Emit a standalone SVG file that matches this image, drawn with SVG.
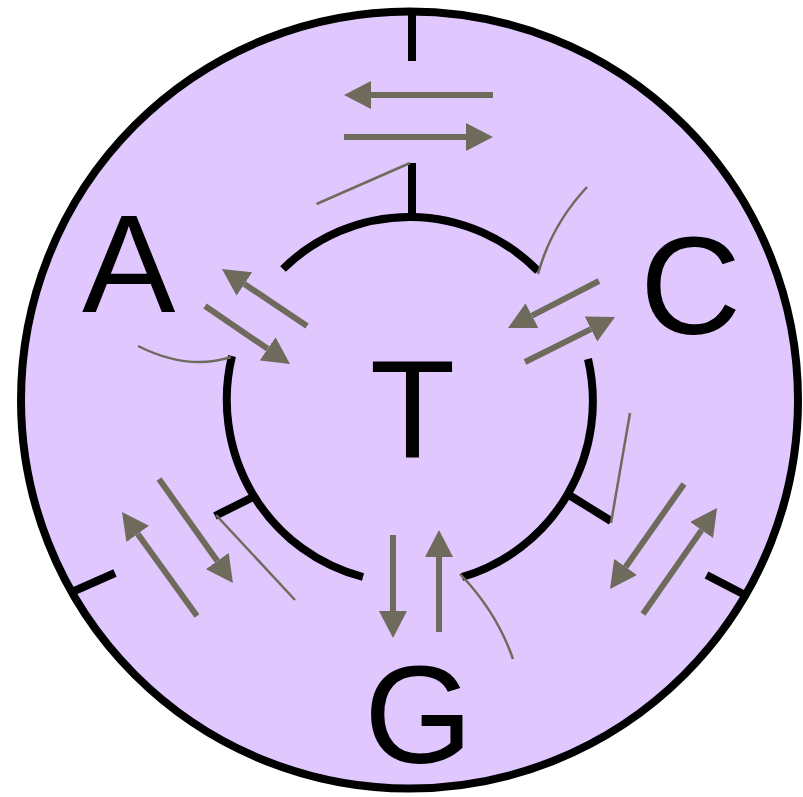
<svg xmlns="http://www.w3.org/2000/svg" width="803" height="797" viewBox="0 0 803 797">
<defs>
<style>
.blk{fill:none;stroke:#000;stroke-width:8;stroke-linecap:butt}
.arw{fill:none;stroke:#6f6b5c;stroke-width:6;stroke-linecap:butt;marker-end:url(#ah)}
.thin{fill:none;stroke:#6f6b5c;stroke-width:2.5}
.lbl{font-family:"Liberation Sans",Arial,sans-serif;font-size:140px;fill:#000;text-anchor:middle}
</style>
<marker id="ah" markerUnits="userSpaceOnUse" markerWidth="27" markerHeight="28" viewBox="0 0 27 28" refX="0" refY="14" orient="auto">
<path d="M0,0 L27,14 L0,28 z" fill="#6f6b5c"/>
</marker>
</defs>
<g id="outer">
<circle cx="409.5" cy="400" r="388.5" fill="#e0c8ff" stroke="#000" stroke-width="8"/>
<line class="blk" x1="412" y1="12" x2="412" y2="61"/>
<line class="blk" x1="72" y1="592" x2="115" y2="573"/>
<line class="blk" x1="747" y1="596" x2="706.5" y2="575"/>
</g>
<g id="inner">
<path class="blk" d="M283,269 A181,183 0 0 1 538,271"/>
<path class="blk" d="M588,359 A181,183 0 0 1 462,577"/>
<path class="blk" d="M232,356 A181,183 0 0 0 363,577"/>
<line class="blk" x1="412" y1="221" x2="412" y2="163"/>
<line class="blk" x1="569" y1="495" x2="611" y2="521"/>
<line class="blk" x1="255" y1="496" x2="215" y2="516"/>
</g>
<g id="labels">
<text class="lbl" x="128.6" y="312">A</text>
<text class="lbl" x="412.5" y="457">T</text>
<text class="lbl" x="690.5" y="334">C</text>
<text class="lbl" x="418.5" y="763">G</text>
</g>
<g id="connectors">
<line class="arw" x1="493" y1="95" x2="371" y2="95"/>
<line class="arw" x1="344" y1="137" x2="466" y2="137"/>
<line class="arw" x1="307" y1="326" x2="244.4" y2="284"/>
<line class="arw" x1="205" y1="306" x2="267.7" y2="348.8"/>
<line class="arw" x1="599" y1="281" x2="532" y2="315.6"/>
<line class="arw" x1="525" y1="362" x2="590.9" y2="329.1"/>
<line class="arw" x1="197" y1="616" x2="137.8" y2="533.9"/>
<line class="arw" x1="159" y1="479" x2="217.3" y2="561"/>
<line class="arw" x1="684" y1="484" x2="625.6" y2="566.9"/>
<line class="arw" x1="643" y1="614" x2="701.6" y2="530.1"/>
<line class="arw" x1="393" y1="535" x2="393" y2="611"/>
<line class="arw" x1="439" y1="632" x2="439" y2="557"/>
<line class="thin" x1="410" y1="163" x2="316.5" y2="204"/>
<path class="thin" d="M538,274 Q551.5,225 587,187"/>
<path class="thin" d="M138,346 Q188,371 231,357"/>
<line class="thin" x1="630" y1="413" x2="611" y2="523"/>
<line class="thin" x1="216" y1="515" x2="295" y2="600"/>
<path class="thin" d="M460,574 Q496.5,611.5 513,659"/>
</g>
</svg>
